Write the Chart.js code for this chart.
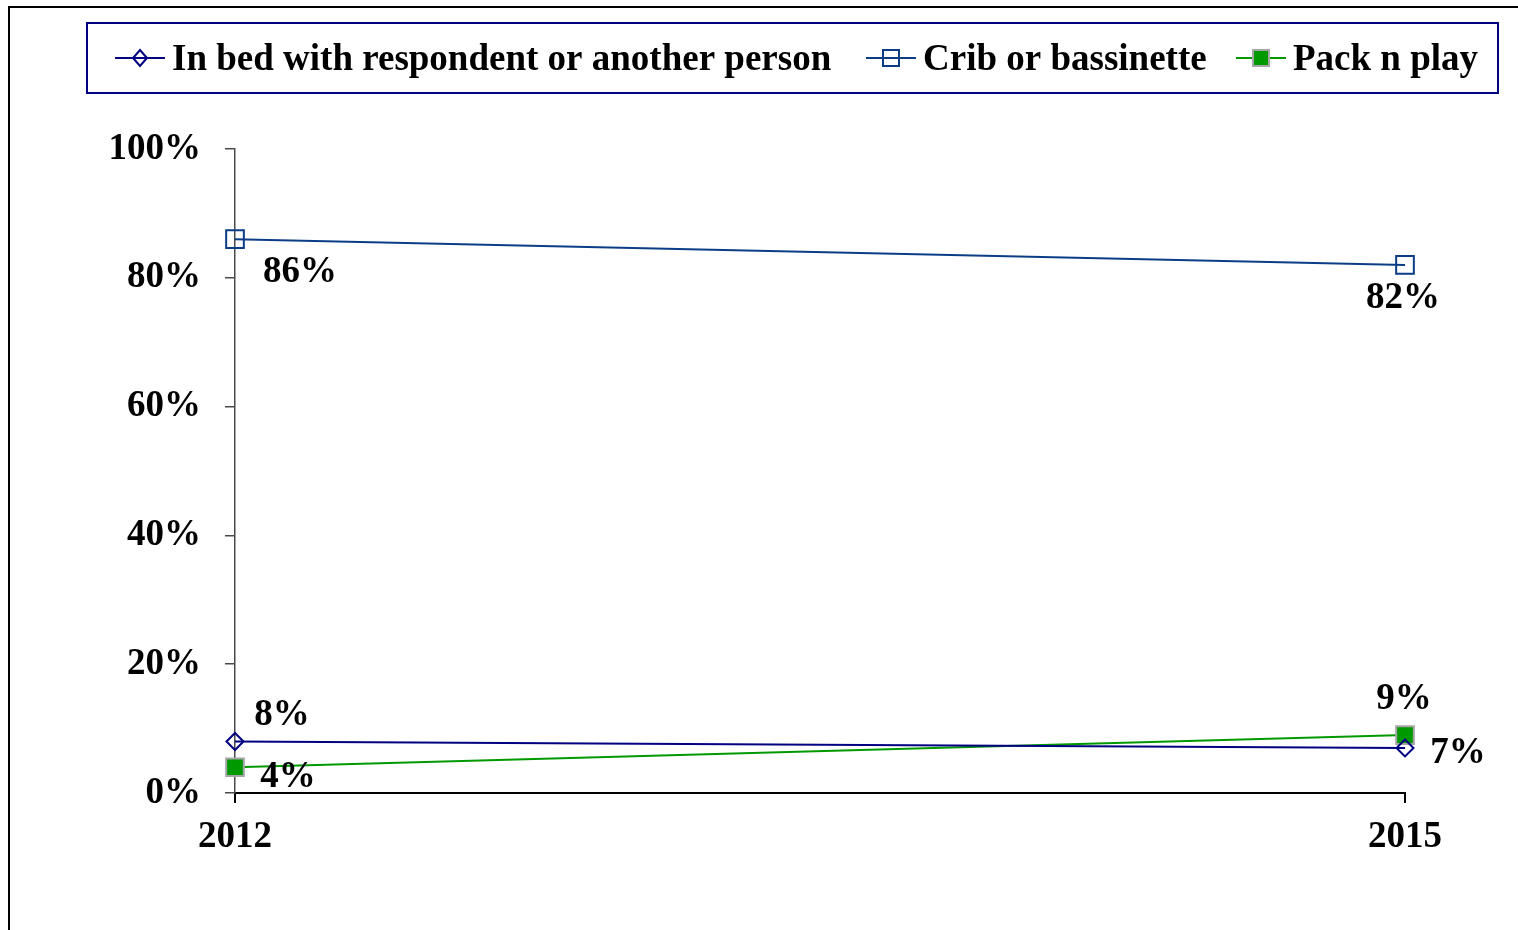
<!DOCTYPE html>
<html>
<head>
<meta charset="utf-8">
<script src="https://cdn.jsdelivr.net/npm/chart.js@4/dist/chart.umd.min.js"></script>
<style>
  html, body { margin: 0; padding: 0; background: #fff; }
  #wrap { position: relative; width: 1518px; height: 930px; }
</style>
</head>
<body>
<div id="wrap"><canvas id="chart" width="1518" height="930"></canvas></div>
<script>
// ── data ──
const years   = ['2012', '2015'];
const inBed   = [8, 7];
const crib    = [86, 82];
const packPlay = [4, 9];
const yTicks  = [0, 20, 40, 60, 80, 100];

const FONT = "'Liberation Serif', 'Times New Roman', serif";
const FSIZE = 37;
const COLORS = {
  bed:   '#000080',
  crib:  '#0B3D87',
  pack:  '#009900',
  packEdge: '#A6A6A6',
  axis:  '#4A4A4A',
};

// where each value label sits relative to its point (dx, dy of text centre)
const LABEL_OFFSETS = [
  [[47, -28], [53, 4]],   // in bed
  [[65, 31], [-2, 32]],   // crib
  [[53, 8], [-1, -38]],   // pack n play
];

const labelsPlugin = {
  id: 'valueLabels',
  afterDatasetsDraw(chart) {
    const ctx = chart.ctx;
    ctx.save();
    ctx.font = 'bold ' + FSIZE + 'px ' + FONT;
    ctx.fillStyle = '#000';
    ctx.textAlign = 'center';
    ctx.textBaseline = 'middle';
    chart.data.datasets.forEach((ds, i) => {
      chart.getDatasetMeta(i).data.forEach((pt, j) => {
        const [dx, dy] = LABEL_OFFSETS[i][j];
        ctx.fillText(ds.data[j] + '%', pt.x + dx, pt.y + dy + 2);
      });
    });
    ctx.restore();
  }
};

// outer frame + legend box with line+marker swatches
const framePlugin = {
  id: 'frameLegend',
  afterDraw(chart) {
    const ctx = chart.ctx;
    ctx.save();
    // outer frame (cropped at right/bottom)
    ctx.strokeStyle = '#000';
    ctx.lineWidth = 2;
    ctx.beginPath();
    ctx.moveTo(9, 940); ctx.lineTo(9, 7); ctx.lineTo(1530, 7);
    ctx.stroke();

    // legend box
    ctx.strokeStyle = '#000080';
    ctx.lineWidth = 2;
    ctx.strokeRect(87, 23, 1411, 70);

    ctx.font = 'bold ' + FSIZE + 'px ' + FONT;
    ctx.textBaseline = 'middle';
    ctx.textAlign = 'left';
    const items = [
      { x: 115, tx: 172 },
      { x: 866, tx: 923 },
      { x: 1236, tx: 1293 },
    ];
    const y = 58;
    chart.data.datasets.forEach((ds, i) => {
      const it = items[i];
      ctx.strokeStyle = ds.borderColor;
      ctx.lineWidth = 2;
      ctx.beginPath();
      ctx.moveTo(it.x, y); ctx.lineTo(it.x + 50, y);
      ctx.stroke();
      const cx = it.x + 25;
      ctx.fillStyle = ds.pointBackgroundColor;
      ctx.strokeStyle = ds.pointBorderColor;
      ctx.lineWidth = 2;
      ctx.beginPath();
      if (ds.pointStyle === 'rectRot') {
        ctx.moveTo(cx, y - 8); ctx.lineTo(cx + 7, y); ctx.lineTo(cx, y + 8); ctx.lineTo(cx - 7, y); ctx.closePath();
        ctx.stroke();
      } else {
        ctx.rect(cx - 8, y - 8, 16, 16);
        if (i === 2) ctx.fill();
        ctx.stroke();
      }
      ctx.fillStyle = '#000';
      ctx.fillText(ds.label, it.tx, y + 2);
    });
    ctx.restore();
  }
};

new Chart(document.getElementById('chart'), {
  type: 'line',
  data: {
    labels: years,
    datasets: [
      {
        label: 'In bed with respondent or another person',
        data: inBed,
        borderColor: COLORS.bed,
        borderWidth: 2,
        pointStyle: 'rectRot',
        pointRadius: 8.5,
        pointBackgroundColor: 'rgba(255,255,255,0)',
        pointBorderColor: COLORS.bed,
        pointBorderWidth: 2,
        tension: 0,
      },
      {
        label: 'Crib or bassinette',
        data: crib,
        borderColor: COLORS.crib,
        borderWidth: 2,
        pointStyle: 'rect',
        pointRadius: 12.5,
        pointBackgroundColor: 'rgba(255,255,255,0)',
        pointBorderColor: COLORS.crib,
        pointBorderWidth: 2,
        tension: 0,
      },
      {
        label: 'Pack n play',
        data: packPlay,
        borderColor: COLORS.pack,
        borderWidth: 2,
        pointStyle: 'rect',
        pointRadius: 12.5,
        pointBackgroundColor: COLORS.pack,
        pointBorderColor: COLORS.packEdge,
        pointBorderWidth: 2,
        tension: 0,
      },
    ],
  },
  options: {
    responsive: false,
    animation: false,
    layout: { padding: { left: 0, top: 149, right: 113, bottom: 0 } },
    plugins: {
      legend: { display: false },
      tooltip: { enabled: false },
    },
    scales: {
      x: {
        offset: false,
        grid: { display: true, drawOnChartArea: false, drawTicks: true, tickLength: 10, color: '#000', lineWidth: 2 },
        border: { display: true, color: '#000', width: 2 },
        ticks: { color: '#000', font: { family: FONT, size: FSIZE, weight: 'bold' }, padding: 12, maxRotation: 0 },
        afterFit(scale) { scale.height = 137; },
      },
      y: {
        min: 0, max: 100,
        afterBuildTicks(scale) { scale.ticks = yTicks.map(v => ({ value: v })); },
        grid: { display: true, drawOnChartArea: false, drawTicks: true, tickLength: 10, color: COLORS.axis, lineWidth: 1.5 },
        border: { display: true, color: COLORS.axis, width: 1.5 },
        ticks: {
          color: '#000', padding: 24,
          font: { family: FONT, size: FSIZE, weight: 'bold' },
          callback: v => v + '%',
        },
        afterFit(scale) { scale.width = 235; },
      },
    },
  },
  plugins: [labelsPlugin, framePlugin],
});
</script>
</body>
</html>
